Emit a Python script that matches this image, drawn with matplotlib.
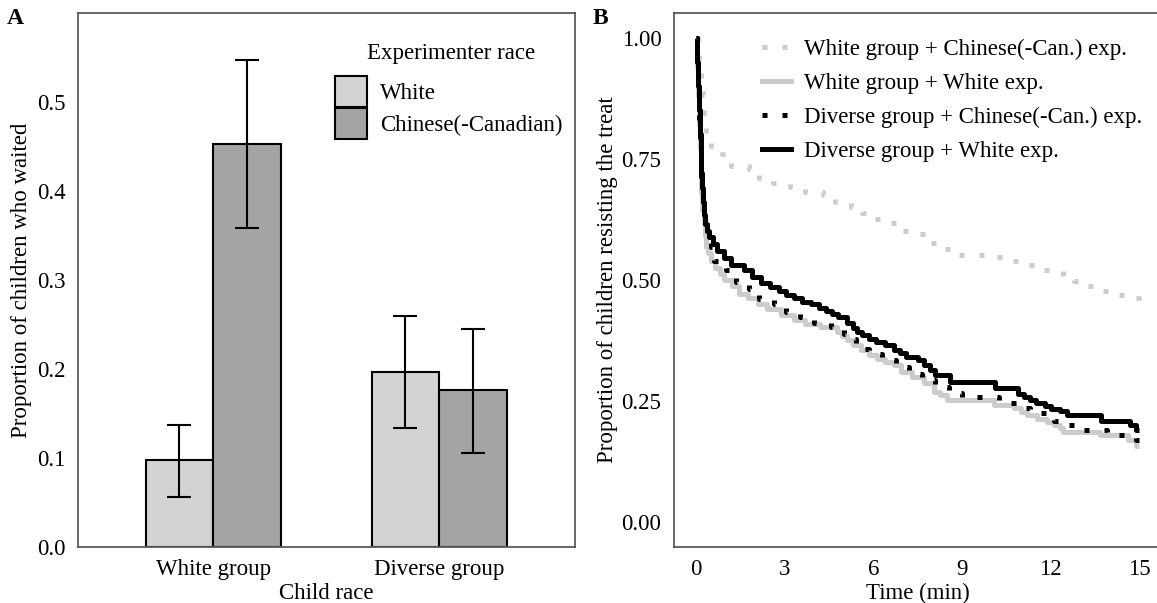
# Delay-of-gratification results: bar chart (A) and survival curves (B)
import matplotlib
matplotlib.use('Agg')
import matplotlib.pyplot as plt
from matplotlib.patches import Patch
from matplotlib.lines import Line2D
import numpy as np

plt.rcParams['font.family'] = ['Liberation Serif', 'DejaVu Serif']
plt.rcParams['font.size'] = 16.5

# Panel A data
child_groups = ['White group', 'Diverse group']
exp_races = ['White', 'Chinese(-Canadian)']
prop_white_exp = [0.097, 0.196]
prop_chinese_exp = [0.453, 0.176]
ci_low_white = [0.056, 0.133]
ci_high_white = [0.137, 0.260]
ci_low_chinese = [0.359, 0.105]
ci_high_chinese = [0.547, 0.245]

# Panel B data: (time in min, proportion still waiting)
white_chinese = [(0, 1.0), (0.05, 0.96), (0.1, 0.93), (0.15, 0.9), (0.22, 0.882), (0.27, 0.845),
                 (0.33, 0.807), (0.5, 0.776), (0.89, 0.759), (1.17, 0.735), (1.79, 0.728),
                 (2.13, 0.711), (2.6, 0.701), (3.19, 0.692), (3.69, 0.682), (4.31, 0.675),
                 (4.69, 0.66), (5.25, 0.65), (5.6, 0.638), (5.87, 0.626), (6.43, 0.617),
                 (6.8, 0.602), (7.36, 0.595), (7.8, 0.576), (8.23, 0.564), (8.73, 0.552),
                 (10.06, 0.548), (10.56, 0.54), (11.12, 0.53), (11.61, 0.52), (12.42, 0.507),
                 (12.8, 0.497), (13.05, 0.487), (13.64, 0.478), (14.14, 0.47), (14.76, 0.463),
                 (15.0, 0.457)]
white_white = [(0, 1.0), (0.03, 0.94), (0.06, 0.88), (0.09, 0.82), (0.12, 0.77), (0.15, 0.72),
               (0.18, 0.68), (0.21, 0.645), (0.25, 0.615), (0.29, 0.59), (0.33, 0.567),
               (0.39, 0.555), (0.5, 0.54), (0.65, 0.525), (0.8, 0.512), (0.95, 0.499),
               (1.2, 0.487), (1.45, 0.472), (1.75, 0.462), (2.08, 0.451), (2.4, 0.44),
               (2.86, 0.427), (3.3, 0.418), (3.7, 0.41), (4.2, 0.403), (4.78, 0.393),
               (4.95, 0.385), (5.11, 0.376), (5.3, 0.366), (5.57, 0.355), (5.85, 0.346),
               (6.13, 0.338), (6.4, 0.331), (6.69, 0.324), (6.92, 0.311), (7.3, 0.3),
               (7.71, 0.287), (8.04, 0.27), (8.25, 0.262), (8.49, 0.253), (10.07, 0.243),
               (10.75, 0.235), (11.0, 0.228), (11.2, 0.221), (11.55, 0.214), (11.88, 0.208),
               (12.1, 0.2), (12.32, 0.194), (12.43, 0.187), (13.68, 0.18), (14.6, 0.17),
               (14.9, 0.157), (15.0, 0.157)]
diverse_chinese = [(0, 1.0), (0.03, 0.94), (0.06, 0.88), (0.09, 0.83), (0.12, 0.78), (0.15, 0.74),
                   (0.18, 0.7), (0.22, 0.66), (0.26, 0.63), (0.3, 0.605), (0.38, 0.585),
                   (0.5, 0.567), (0.61, 0.54), (0.8, 0.53), (1.0, 0.52), (1.34, 0.496),
                   (1.79, 0.482), (2.13, 0.461), (2.64, 0.451), (3.03, 0.434), (3.5, 0.424),
                   (3.99, 0.411), (4.55, 0.403), (5.0, 0.389), (5.2, 0.379), (5.4, 0.369),
                   (5.6, 0.358), (5.85, 0.348), (6.3, 0.335), (6.75, 0.321), (7.2, 0.307),
                   (7.66, 0.294), (8.1, 0.279), (8.55, 0.266), (9.0, 0.259), (10.24, 0.246),
                   (11.1, 0.235), (11.3, 0.225), (11.88, 0.218), (12.1, 0.209), (12.27, 0.201),
                   (12.81, 0.191), (13.9, 0.18), (14.64, 0.177), (14.9, 0.17), (15.0, 0.17)]
diverse_white = [(0, 1.0), (0.03, 0.95), (0.06, 0.9), (0.09, 0.85), (0.12, 0.8), (0.15, 0.76),
                 (0.18, 0.72), (0.21, 0.69), (0.24, 0.66), (0.27, 0.635), (0.31, 0.615),
                 (0.36, 0.6), (0.45, 0.588), (0.56, 0.575), (0.7, 0.56), (0.95, 0.545),
                 (1.17, 0.53), (1.62, 0.52), (1.9, 0.507), (2.2, 0.494), (2.5, 0.485),
                 (2.8, 0.478), (3.05, 0.47), (3.3, 0.462), (3.6, 0.455), (3.9, 0.45),
                 (4.15, 0.443), (4.4, 0.437), (4.6, 0.43), (4.8, 0.424), (5.1, 0.412),
                 (5.3, 0.4), (5.45, 0.393), (5.6, 0.386), (5.85, 0.379), (6.1, 0.372),
                 (6.4, 0.365), (6.7, 0.355), (6.9, 0.349), (7.1, 0.342), (7.5, 0.335),
                 (7.7, 0.325), (7.9, 0.315), (8.1, 0.305), (8.6, 0.29), (10.1, 0.277),
                 (10.9, 0.265), (11.1, 0.258), (11.3, 0.252), (11.5, 0.247), (11.8, 0.24),
                 (12.0, 0.234), (12.3, 0.229), (12.55, 0.222), (13.7, 0.21), (14.7, 0.2),
                 (14.9, 0.19), (15.0, 0.19)]
curve_labels = ['White group + Chinese(-Can.) exp.', 'White group + White exp.',
                'Diverse group + Chinese(-Can.) exp.', 'Diverse group + White exp.']

light = '#d3d3d3'
dark = '#a4a4a4'
spine_col = '#5a5a5a'

fig = plt.figure(figsize=(11.57, 6.03), dpi=100)
axA = fig.add_axes([0.0672, 0.0934, 0.4297, 0.8846])
axB = fig.add_axes([0.5825, 0.0934, 0.4214, 0.8846])

# ---- Panel A ----
x = np.arange(1, len(child_groups) + 1)
w = 0.3
for vals, lo, hi, col, off in [(prop_white_exp, ci_low_white, ci_high_white, light, -w / 2),
                               (prop_chinese_exp, ci_low_chinese, ci_high_chinese, dark, w / 2)]:
    vals = np.array(vals)
    axA.bar(x + off, vals, width=w, color=col, edgecolor='black', linewidth=1.5, zorder=2)
    yerr = [vals - np.array(lo), np.array(hi) - vals]
    axA.errorbar(x + off, vals, yerr=yerr, fmt='none', ecolor='black', elinewidth=1.5,
                 capsize=8.3, capthick=1.5, zorder=3)

axA.set_xlim(0.4, 2.6)
axA.set_ylim(0, 0.6)
axA.set_xticks(x)
axA.set_xticklabels(child_groups)
axA.set_yticks([0.0, 0.1, 0.2, 0.3, 0.4, 0.5])
axA.set_yticklabels(['0.0', '0.1', '0.2', '0.3', '0.4', '0.5'])
axA.set_xlabel('Child race', labelpad=2)
axA.set_ylabel('Proportion of children who waited', labelpad=3)

handlesA = [Patch(facecolor=light, edgecolor='black', linewidth=1.5),
            Patch(facecolor=dark, edgecolor='black', linewidth=1.5)]
legA = axA.legend(handlesA, exp_races, loc='upper left',
                  bbox_to_anchor=(335 / 1157, 1 - 76 / 603), bbox_transform=fig.transFigure,
                  frameon=False, borderpad=0, borderaxespad=0, handlelength=1.4,
                  handleheight=1.7, labelspacing=0.05, handletextpad=0.55, fontsize=16.5)
fig.text(451 / 1157, 1 - 53 / 603, 'Experimenter race', ha='center', va='center', fontsize=16.5)

# ---- Panel B ----
styles = [(white_chinese, '#cccccc', (0, (1, 3))),
          (white_white, '#cccccc', '-'),
          (diverse_chinese, 'black', (0, (1, 3))),
          (diverse_white, 'black', '-')]
handlesB = []
for data, col, ls in styles:
    t, s = zip(*data)
    axB.step(t, s, where='post', color=col, linestyle=ls, linewidth=3.6,
             solid_capstyle='butt', dash_capstyle='butt')
    handlesB.append(Line2D([], [], color=col, linestyle=ls, linewidth=3.6,
                           dash_capstyle='butt'))

axB.set_xlim(-0.75, 15.75)
axB.set_ylim(-0.05, 1.05)
axB.set_xticks([0, 3, 6, 9, 12, 15])
axB.set_yticks([0, 0.25, 0.5, 0.75, 1.0])
axB.set_yticklabels(['0.00', '0.25', '0.50', '0.75', '1.00'])
axB.set_xlabel('Time (min)', labelpad=2)
axB.set_ylabel('Proportion of children resisting the treat', labelpad=2.5)
axB.legend(handlesB, curve_labels, loc='upper left',
           bbox_to_anchor=(762 / 1157, 1 - 39 / 603), bbox_transform=fig.transFigure,
           frameon=False, borderpad=0, borderaxespad=0, handlelength=1.25,
           labelspacing=0.56, handletextpad=0.6, fontsize=16.5)

for ax in (axA, axB):
    for sp in ax.spines.values():
        sp.set_color(spine_col)
        sp.set_linewidth(1.3)
    ax.tick_params(length=0, pad=9, labelsize=16.5)

fig.text(15 / 1157, 1 - 19 / 603, 'A', fontsize=17, fontweight='bold', va='center', ha='center')
fig.text(600 / 1157, 1 - 19 / 603, 'B', fontsize=17, fontweight='bold', va='center', ha='center')

fig.savefig('out.png', dpi=100)
